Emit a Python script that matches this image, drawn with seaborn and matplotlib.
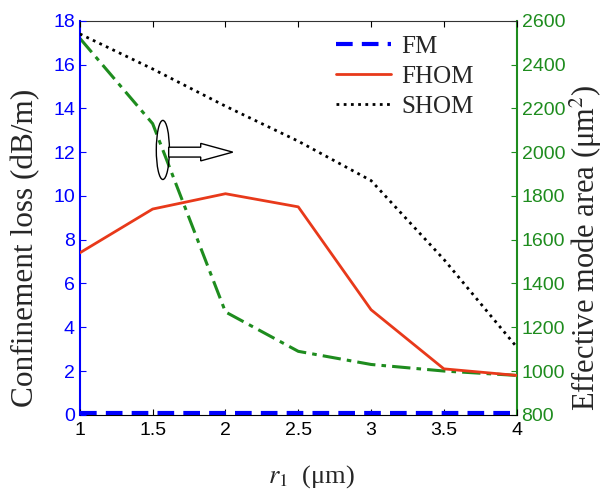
import numpy as np
import pandas as pd
import matplotlib
matplotlib.use("Agg")
import matplotlib.pyplot as plt
import seaborn as sns
from matplotlib.patches import Ellipse, FancyArrow

# data
r1 = [1, 1.5, 2, 2.5, 3, 3.5, 4]
loss_fm = [0.1, 0.1, 0.1, 0.1, 0.1, 0.1, 0.1]
loss_fhom = [7.4, 9.4, 10.1, 9.5, 4.8, 2.1, 1.8]
loss_shom = [17.4, 15.8, 14.1, 12.5, 10.7, 7.1, 3.1]
area = [2520, 2130, 1270, 1090, 1030, 1000, 980]

BLUE = "#0000ff"
RED = "#e8391a"
GREEN = "#1e8c1e"

sns.set_style("ticks")
plt.rcParams["xtick.direction"] = "in"
plt.rcParams["ytick.direction"] = "in"
plt.rcParams["mathtext.fontset"] = "stix"

df = pd.DataFrame({"r1": r1, "FM": loss_fm, "FHOM": loss_fhom, "SHOM": loss_shom, "area": area})

fig = plt.figure(figsize=(6.05, 4.95), dpi=100)
ax = fig.add_axes([0.132, 0.162, 0.722, 0.796])
ax2 = ax.twinx()

sns.lineplot(data=df, x="r1", y="FM", ax=ax, color=BLUE, lw=3, label="FM")
ax.lines[-1].set_dashes([4, 2.2])
sns.lineplot(data=df, x="r1", y="FHOM", ax=ax, color=RED, lw=2, label="FHOM")
sns.lineplot(data=df, x="r1", y="SHOM", ax=ax, color="black", lw=2, label="SHOM")
ax.lines[-1].set_dashes([1, 1.6])

sns.lineplot(data=df, x="r1", y="area", ax=ax2, color=GREEN, lw=2.2, legend=False)
ax2.lines[-1].set_dashes([6, 2, 1.5, 2])

ax.set_xlim(1, 4)
ax.set_ylim(0, 18)
ax2.set_ylim(800, 2600)
ax.set_xticks(r1)
ax.set_xticklabels(["1", "1.5", "2", "2.5", "3", "3.5", "4"])
ax.set_yticks(range(0, 19, 2))
ax2.set_yticks(range(800, 2601, 200))

tick_font = "Liberation Sans"
for lab in ax.get_xticklabels():
    lab.set_fontfamily(tick_font)
for lab in ax.get_yticklabels() + ax2.get_yticklabels():
    lab.set_fontfamily(tick_font)
ax.tick_params(axis="x", labelsize=14, colors="black", length=4, top=True, pad=5)
ax.tick_params(axis="y", labelsize=14, colors=BLUE, labelcolor=BLUE, length=4)
ax2.tick_params(axis="y", labelsize=14, colors=GREEN, labelcolor=GREEN, length=4)

ax2.spines["left"].set_color(BLUE)
ax2.spines["left"].set_linewidth(1.5)
ax2.spines["right"].set_color(GREEN)
ax2.spines["right"].set_linewidth(1.5)
ax2.spines["top"].set_color("#333333")
ax2.spines["bottom"].set_color("black")
for s in ax.spines.values():
    s.set_visible(False)

serif = "Liberation Serif"
ax.set_xlabel("$r_1$  (\u03bcm)", fontsize=19, family=serif)
ax.xaxis.set_label_coords(0.531, -0.122)
ax.set_ylabel("Confinement loss (dB/m)", fontsize=22.5, family=serif)
ax.yaxis.set_label_coords(-0.09, 0.424)
ax2.set_ylabel("Effective mode area (\u03bcm$^2$)", fontsize=22, family=serif)
ax2.yaxis.set_label_coords(1.118, 0.423)

leg = ax.legend(loc="upper left", bbox_to_anchor=(0.536, 1.02), frameon=False,
                prop={"family": serif, "size": 18}, handlelength=2.2,
                labelspacing=0.3, handletextpad=0.4)

# ellipse + hollow arrow pointing to the right axis
ax.add_patch(Ellipse((1.57, 12.1), 0.09, 2.7, fill=False, ec="black", lw=1))
ax.add_patch(FancyArrow(1.61, 12.0, 0.44, 0, width=0.45, head_width=0.8,
                        head_length=0.22, length_includes_head=True,
                        fc="white", ec="black", lw=1, zorder=5))

ax.set_zorder(ax2.get_zorder() + 1)
ax.patch.set_visible(False)

fig.savefig("out.png", dpi=100)
